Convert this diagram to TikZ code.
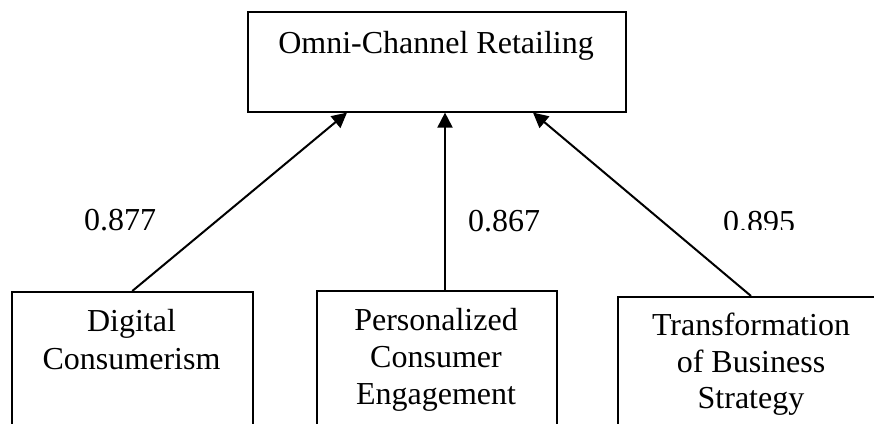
\documentclass[tikz,border=0pt]{standalone}
\usepackage{fontspec}
\setmainfont{Liberation Serif}
\usetikzlibrary{arrows.meta,calc}
\begin{document}
\begin{tikzpicture}[x=1pt,y=-1pt,
  box/.style={draw, line width=1.6pt, rectangle, inner sep=0pt, anchor=north west},
  lbl/.style={font=\fontsize{32}{37}\selectfont, inner sep=0pt, anchor=base},
  coef/.style={font=\fontsize{32}{37}\selectfont, inner sep=0pt, anchor=base west},
  link/.style={line width=2pt, -{Triangle[length=15pt,width=15pt]}}]
\useasboundingbox (0,0) rectangle (874,423);
\clip (0,0) rectangle (874,423);

% outcome construct
\node[box, minimum width=378pt, minimum height=100pt] (top) at (247,11) {};
\node[lbl] (toptext) at (436,53) {Omni-Channel Retailing};

% predictor constructs (boxes run past the lower edge)
\node[box, minimum width=241pt, minimum height=160pt] (b1) at (11,291) {};
\node[box, minimum width=240pt, minimum height=160pt] (b2) at (316,290) {};
\node[box, minimum width=300pt, minimum height=160pt] (b3) at (617,296) {};

\node[lbl] (b1a) at (131.5,331) {Digital};
\node[lbl] (b1b) at (131.5,369) {Consumerism};
\node[lbl] (b2a) at (436,330) {Personalized};
\node[lbl] (b2b) at (436,367) {Consumer};
\node[lbl] (b2c) at (436,404) {Engagement};
\node[lbl] (b3a) at (751,335) {Transformation};
\node[lbl] (b3b) at (751,372) {of Business};
\node[lbl] (b3c) at (751,408) {Strategy};

% connector end points
\coordinate (s1) at (b1.north);
\coordinate (s2) at ($(b2.north west)+(129,0)$);
\coordinate (s3) at ($(b3.north west)+(134,0)$);
\coordinate (t1) at ($(top.south west)+(100,0)$);
\coordinate (t2) at ($(top.south west)+(198,0)$);
\coordinate (t3) at ($(top.south west)+(286,0)$);

\draw[link] (s1) -- (t1);
\draw[link] (s2) -- (t2);
\draw[link] (s3) -- (t3);

% path coefficients; the last one sits in a text frame that cuts off its foot
\node[coef] (c1) at (84,230) {0.877};
\node[coef] (c2) at (468,231) {0.867};
\begin{scope}
  \clip (700,190) rectangle (820,229.5);
  \node[coef] (c3) at (723,232.5) {0.895};
\end{scope}
\end{tikzpicture}
\end{document}
